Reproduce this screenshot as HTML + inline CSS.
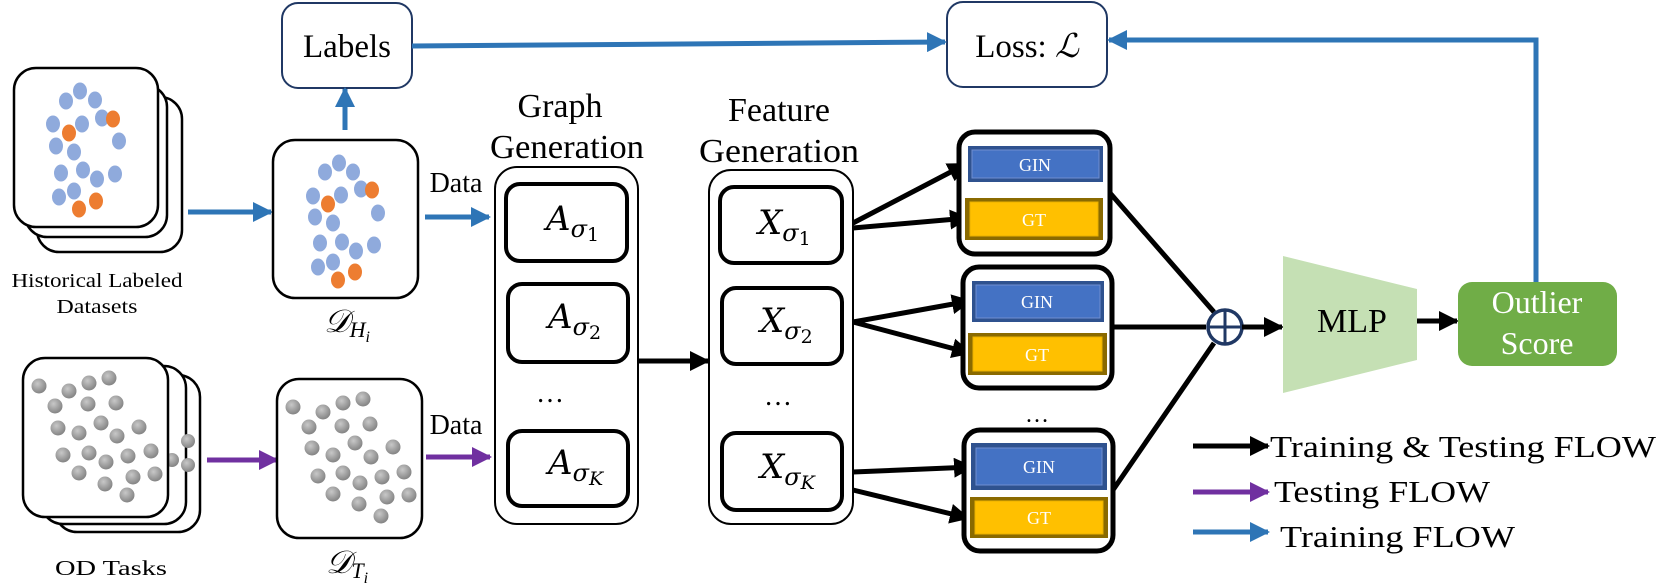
<!DOCTYPE html>
<html><head><meta charset="utf-8"><style>
html,body{margin:0;padding:0;background:#fff;}
svg{display:block;font-family:"Liberation Serif","DejaVu Serif",serif;}
</style></head><body>
<svg width="1661" height="584" viewBox="0 0 1661 584" xmlns="http://www.w3.org/2000/svg" font-family="Liberation Serif, DejaVu Serif, serif">
<defs>
<radialGradient id="gd" cx="0.4" cy="0.35" r="0.7">
<stop offset="0" stop-color="#c8c8c8"/><stop offset="1" stop-color="#7f7f7f"/>
</radialGradient>
<marker id="ab" viewBox="0 0 10 10" refX="9" refY="5" markerWidth="4" markerHeight="4" orient="auto" markerUnits="strokeWidth"><path d="M0,0 L10,5 L0,10 z" fill="#2e75b6"/></marker>
<marker id="ap" viewBox="0 0 10 10" refX="9" refY="5" markerWidth="4" markerHeight="4" orient="auto" markerUnits="strokeWidth"><path d="M0,0 L10,5 L0,10 z" fill="#7030a0"/></marker>
<marker id="ak" viewBox="0 0 10 10" refX="9" refY="5" markerWidth="4" markerHeight="4" orient="auto" markerUnits="strokeWidth"><path d="M0,0 L10,5 L0,10 z" fill="#000"/></marker>
</defs>

<rect x="282" y="3" width="130" height="85" rx="16" fill="#fff" stroke="#203864" stroke-width="2"/>
<text x="347" y="57" font-size="33" text-anchor="middle" font-family="Liberation Serif, serif">Labels</text>
<rect x="947" y="2" width="160" height="85" rx="16" fill="#fff" stroke="#203864" stroke-width="2"/>
<text x="1027" y="57" font-size="33" text-anchor="middle" font-family="Liberation Serif, serif">Loss: <tspan font-style="italic">ℒ</tspan></text>
<line x1="412" y1="46" x2="945" y2="42" stroke="#2e75b6" stroke-width="5" marker-end="url(#ab)"/>
<polyline points="1536,282 1536,40 1109,40" fill="none" stroke="#2e75b6" stroke-width="5" marker-end="url(#ab)"/>
<line x1="345" y1="130" x2="345" y2="89" stroke="#2e75b6" stroke-width="5" marker-end="url(#ab)"/>

<rect x="37" y="97" width="145" height="155" rx="22" fill="#fff" stroke="#000" stroke-width="2.5"/>
<rect x="25" y="85" width="142" height="152" rx="22" fill="#fff" stroke="#000" stroke-width="2.5"/>
<rect x="14" y="68" width="144" height="159" rx="22" fill="#fff" stroke="#000" stroke-width="2.5"/>
<g fill="#8faadc">
<ellipse cx="66" cy="101" rx="7" ry="8.5"/><ellipse cx="80" cy="91" rx="7" ry="8.5"/><ellipse cx="95" cy="100" rx="7" ry="8.5"/>
<ellipse cx="53" cy="124" rx="7" ry="8.5"/><ellipse cx="82" cy="124" rx="7" ry="8.5"/><ellipse cx="102" cy="118" rx="7" ry="8.5"/>
<ellipse cx="56" cy="146" rx="7" ry="8.5"/><ellipse cx="74" cy="152" rx="7" ry="8.5"/><ellipse cx="119" cy="141" rx="7" ry="8.5"/>
<ellipse cx="61" cy="173" rx="7" ry="8.5"/><ellipse cx="83" cy="170" rx="7" ry="8.5"/><ellipse cx="97" cy="179" rx="7" ry="8.5"/>
<ellipse cx="115" cy="174" rx="7" ry="8.5"/><ellipse cx="59" cy="197" rx="7" ry="8.5"/><ellipse cx="74" cy="191" rx="7" ry="8.5"/>
</g>
<g fill="#ed7d31">
<ellipse cx="113" cy="119" rx="7" ry="8.5"/><ellipse cx="69" cy="133" rx="7" ry="8.5"/><ellipse cx="96" cy="201" rx="7" ry="8.5"/><ellipse cx="79" cy="209" rx="7" ry="8.5"/>
</g>
<text x="97" y="287" font-size="20" text-anchor="middle" textLength="171" lengthAdjust="spacingAndGlyphs">Historical Labeled</text>
<text x="97" y="313" font-size="20" text-anchor="middle" textLength="81" lengthAdjust="spacingAndGlyphs">Datasets</text>
<line x1="188" y1="212" x2="271" y2="212" stroke="#2e75b6" stroke-width="5" marker-end="url(#ab)"/>

<rect x="273" y="140" width="145" height="158" rx="22" fill="#fff" stroke="#000" stroke-width="2.5"/>
<g fill="#8faadc">
<ellipse cx="325" cy="172" rx="7" ry="8.5"/><ellipse cx="339" cy="163" rx="7" ry="8.5"/><ellipse cx="353" cy="172" rx="7" ry="8.5"/>
<ellipse cx="313" cy="196" rx="7" ry="8.5"/><ellipse cx="341" cy="195" rx="7" ry="8.5"/><ellipse cx="361" cy="189" rx="7" ry="8.5"/>
<ellipse cx="315" cy="217" rx="7" ry="8.5"/><ellipse cx="333" cy="223" rx="7" ry="8.5"/><ellipse cx="378" cy="213" rx="7" ry="8.5"/>
<ellipse cx="320" cy="243" rx="7" ry="8.5"/><ellipse cx="342" cy="242" rx="7" ry="8.5"/><ellipse cx="356" cy="251" rx="7" ry="8.5"/>
<ellipse cx="374" cy="245" rx="7" ry="8.5"/><ellipse cx="318" cy="267" rx="7" ry="8.5"/><ellipse cx="333" cy="262" rx="7" ry="8.5"/>
</g>
<g fill="#ed7d31">
<ellipse cx="372" cy="190" rx="7" ry="8.5"/><ellipse cx="328" cy="204" rx="7" ry="8.5"/><ellipse cx="355" cy="272" rx="7" ry="8.5"/><ellipse cx="338" cy="280" rx="7" ry="8.5"/>
</g>
<text x="347" y="332" font-size="32" text-anchor="middle" font-style="italic">𝒟<tspan font-size="22" dy="5">H</tspan><tspan font-size="16" dy="5">i</tspan></text>

<text x="456" y="192" font-size="28" text-anchor="middle">Data</text>
<line x1="425" y1="217" x2="489" y2="217" stroke="#2e75b6" stroke-width="5" marker-end="url(#ab)"/>

<rect x="55" y="375" width="145" height="157" rx="22" fill="#fff" stroke="#000" stroke-width="2.5"/>
<rect x="41" y="366" width="145" height="158" rx="22" fill="#fff" stroke="#000" stroke-width="2.5"/>
<g fill="url(#gd)"><circle cx="188" cy="441" r="7"/><circle cx="188" cy="465" r="7"/><circle cx="172" cy="460" r="7"/></g>
<rect x="23" y="358" width="145" height="159" rx="22" fill="#fff" stroke="#000" stroke-width="2.5"/>
<g fill="url(#gd)">
<circle cx="39" cy="386" r="7.5"/><circle cx="69" cy="391" r="7.5"/><circle cx="89" cy="383" r="7.5"/><circle cx="109" cy="378" r="7.5"/>
<circle cx="55" cy="406" r="7.5"/><circle cx="88" cy="404" r="7.5"/><circle cx="116" cy="403" r="7.5"/><circle cx="58" cy="428" r="7.5"/>
<circle cx="79" cy="433" r="7.5"/><circle cx="101" cy="423" r="7.5"/><circle cx="117" cy="436" r="7.5"/><circle cx="139" cy="427" r="7.5"/>
<circle cx="63" cy="455" r="7.5"/><circle cx="89" cy="453" r="7.5"/><circle cx="106" cy="462" r="7.5"/><circle cx="128" cy="456" r="7.5"/>
<circle cx="151" cy="451" r="7.5"/><circle cx="79" cy="473" r="7.5"/><circle cx="105" cy="484" r="7.5"/><circle cx="133" cy="477" r="7.5"/>
<circle cx="155" cy="474" r="7.5"/><circle cx="127" cy="495" r="7.5"/>
</g>
<text x="111" y="575" font-size="21" text-anchor="middle" textLength="112" lengthAdjust="spacingAndGlyphs">OD Tasks</text>
<line x1="207" y1="460" x2="277" y2="460" stroke="#7030a0" stroke-width="5" marker-end="url(#ap)"/>

<rect x="277" y="379" width="145" height="159" rx="22" fill="#fff" stroke="#000" stroke-width="2.5"/>
<g fill="url(#gd)">
<circle cx="293" cy="407" r="7.5"/><circle cx="323" cy="412" r="7.5"/><circle cx="343" cy="403" r="7.5"/><circle cx="363" cy="399" r="7.5"/>
<circle cx="309" cy="427" r="7.5"/><circle cx="342" cy="426" r="7.5"/><circle cx="370" cy="424" r="7.5"/><circle cx="312" cy="448" r="7.5"/>
<circle cx="333" cy="455" r="7.5"/><circle cx="355" cy="443" r="7.5"/><circle cx="371" cy="457" r="7.5"/><circle cx="393" cy="447" r="7.5"/>
<circle cx="318" cy="476" r="7.5"/><circle cx="343" cy="473" r="7.5"/><circle cx="360" cy="483" r="7.5"/><circle cx="382" cy="477" r="7.5"/>
<circle cx="404" cy="472" r="7.5"/><circle cx="333" cy="494" r="7.5"/><circle cx="359" cy="504" r="7.5"/><circle cx="387" cy="497" r="7.5"/>
<circle cx="409" cy="495" r="7.5"/><circle cx="381" cy="516" r="7.5"/>
</g>
<text x="347" y="573" font-size="32" text-anchor="middle" font-style="italic">𝒟<tspan font-size="22" dy="5">T</tspan><tspan font-size="16" dy="5">i</tspan></text>
<text x="456" y="434" font-size="28" text-anchor="middle">Data</text>
<line x1="426" y1="457" x2="490" y2="457" stroke="#7030a0" stroke-width="5" marker-end="url(#ap)"/>

<text x="560" y="117" font-size="34" text-anchor="middle">Graph</text>
<text x="567" y="158" font-size="34" text-anchor="middle" textLength="154" lengthAdjust="spacingAndGlyphs">Generation</text>
<rect x="495" y="167" width="143" height="357" rx="22" fill="#fff" stroke="#000" stroke-width="2"/>
<rect x="506" y="184" width="121" height="77" rx="14" fill="#fff" stroke="#000" stroke-width="4"/>
<rect x="508" y="284" width="120" height="78" rx="14" fill="#fff" stroke="#000" stroke-width="4"/>
<rect x="508" y="431" width="120" height="75" rx="14" fill="#fff" stroke="#000" stroke-width="4"/>
<g font-family="DejaVu Serif, serif" font-style="italic">
<text x="546" y="230" font-size="34">A<tspan font-size="24" dy="7">σ</tspan><tspan font-size="19" dy="4" font-style="normal">1</tspan></text>
<text x="548" y="328" font-size="34">A<tspan font-size="24" dy="7">σ</tspan><tspan font-size="19" dy="4" font-style="normal">2</tspan></text>
<text x="548" y="474" font-size="34">A<tspan font-size="24" dy="7">σ</tspan><tspan font-size="19" dy="4">K</tspan></text>
</g>
<text x="550" y="402" font-size="28" text-anchor="middle">…</text>
<line x1="638" y1="361" x2="708" y2="361" stroke="#000" stroke-width="5" marker-end="url(#ak)"/>

<text x="779" y="121" font-size="34" text-anchor="middle">Feature</text>
<text x="779" y="162" font-size="34" text-anchor="middle" textLength="160" lengthAdjust="spacingAndGlyphs">Generation</text>
<rect x="709" y="170" width="144" height="354" rx="22" fill="#fff" stroke="#000" stroke-width="2"/>
<rect x="720" y="187" width="122" height="76" rx="14" fill="#fff" stroke="#000" stroke-width="4"/>
<rect x="722" y="288" width="120" height="76" rx="14" fill="#fff" stroke="#000" stroke-width="4"/>
<rect x="722" y="433" width="120" height="77" rx="14" fill="#fff" stroke="#000" stroke-width="4"/>
<g font-family="DejaVu Serif, serif" font-style="italic">
<text x="758" y="234" font-size="34">X<tspan font-size="24" dy="7">σ</tspan><tspan font-size="19" dy="4" font-style="normal">1</tspan></text>
<text x="760" y="332" font-size="34">X<tspan font-size="24" dy="7">σ</tspan><tspan font-size="19" dy="4" font-style="normal">2</tspan></text>
<text x="760" y="478" font-size="34">X<tspan font-size="24" dy="7">σ</tspan><tspan font-size="19" dy="4">K</tspan></text>
</g>
<text x="778" y="405" font-size="28" text-anchor="middle">…</text>

<g stroke="#000" stroke-width="5" marker-end="url(#ak)">
<line x1="853" y1="223" x2="966" y2="164"/>
<line x1="853" y1="228" x2="968" y2="218"/>
<line x1="853" y1="322" x2="970" y2="301"/>
<line x1="853" y1="322" x2="970" y2="353"/>
<line x1="853" y1="472" x2="972" y2="467"/>
<line x1="853" y1="490" x2="968" y2="518"/>
</g>

<rect x="959" y="132" width="151" height="122" rx="16" fill="#fff" stroke="#000" stroke-width="5"/>
<rect x="968" y="146" width="135" height="36" fill="#2f528f"/><rect x="972" y="150" width="127" height="28" fill="#4472c4" stroke="#6f8fd0" stroke-width="1"/>
<text x="1035" y="171" font-size="18" fill="#fff" text-anchor="middle">GIN</text>
<rect x="965" y="198" width="138" height="42" fill="#8a6a00"/><rect x="970" y="202" width="128" height="34" fill="#ffc000" stroke="#e8b000" stroke-width="1"/>
<text x="1034" y="226" font-size="18" fill="#fff" text-anchor="middle">GT</text>
<rect x="963" y="267" width="149" height="121" rx="16" fill="#fff" stroke="#000" stroke-width="5"/>
<rect x="972" y="281" width="132" height="41" fill="#2f528f"/><rect x="976" y="285" width="124" height="33" fill="#4472c4" stroke="#6f8fd0" stroke-width="1"/>
<text x="1037" y="308" font-size="18" fill="#fff" text-anchor="middle">GIN</text>
<rect x="968" y="333" width="139" height="42" fill="#8a6a00"/><rect x="973" y="337" width="129" height="34" fill="#ffc000" stroke="#e8b000" stroke-width="1"/>
<text x="1037" y="361" font-size="18" fill="#fff" text-anchor="middle">GT</text>
<text x="1037" y="422" font-size="24" text-anchor="middle">…</text>
<rect x="964" y="430" width="149" height="121" rx="16" fill="#fff" stroke="#000" stroke-width="5"/>
<rect x="971" y="443" width="136" height="47" fill="#2f528f"/><rect x="976" y="448" width="126" height="37" fill="#4472c4" stroke="#6f8fd0" stroke-width="1"/>
<text x="1039" y="473" font-size="18" fill="#fff" text-anchor="middle">GIN</text>
<rect x="970" y="497" width="138" height="41" fill="#8a6a00"/><rect x="975" y="501" width="128" height="33" fill="#ffc000" stroke="#e8b000" stroke-width="1"/>
<text x="1039" y="524" font-size="18" fill="#fff" text-anchor="middle">GT</text>

<g stroke="#000" stroke-width="5" fill="none">
<line x1="1110" y1="193" x2="1214" y2="312"/>
<line x1="1112" y1="327" x2="1206" y2="327"/>
<line x1="1113" y1="490" x2="1214" y2="343"/>
</g>
<circle cx="1225" cy="327" r="17" fill="#fff" stroke="#203864" stroke-width="3.5"/>
<line x1="1208" y1="327" x2="1242" y2="327" stroke="#203864" stroke-width="3"/>
<line x1="1225" y1="310" x2="1225" y2="344" stroke="#203864" stroke-width="3"/>
<line x1="1242" y1="327" x2="1282" y2="327" stroke="#000" stroke-width="5" marker-end="url(#ak)"/>

<polygon points="1283,256 1417,289 1417,360 1283,393" fill="#c5e0b4"/>
<text x="1352" y="332" font-size="34" text-anchor="middle">MLP</text>
<line x1="1417" y1="321" x2="1457" y2="321" stroke="#000" stroke-width="5" marker-end="url(#ak)"/>
<rect x="1458" y="282" width="159" height="84" rx="14" fill="#70ad47"/>
<text x="1537" y="313" font-size="32" fill="#fff" text-anchor="middle">Outlier</text>
<text x="1537" y="354" font-size="32" fill="#fff" text-anchor="middle">Score</text>

<line x1="1193" y1="446" x2="1268" y2="446" stroke="#000" stroke-width="5" marker-end="url(#ak)"/>
<text x="1270" y="457" font-size="31" textLength="386" lengthAdjust="spacingAndGlyphs">Training &amp; Testing FLOW</text>
<line x1="1193" y1="492" x2="1268" y2="492" stroke="#7030a0" stroke-width="5" marker-end="url(#ap)"/>
<text x="1274" y="502" font-size="31" textLength="216" lengthAdjust="spacingAndGlyphs">Testing FLOW</text>
<line x1="1193" y1="532" x2="1268" y2="532" stroke="#2e75b6" stroke-width="5" marker-end="url(#ab)"/>
<text x="1280" y="547" font-size="31" textLength="235" lengthAdjust="spacingAndGlyphs">Training FLOW</text>
</svg>
</body></html>
